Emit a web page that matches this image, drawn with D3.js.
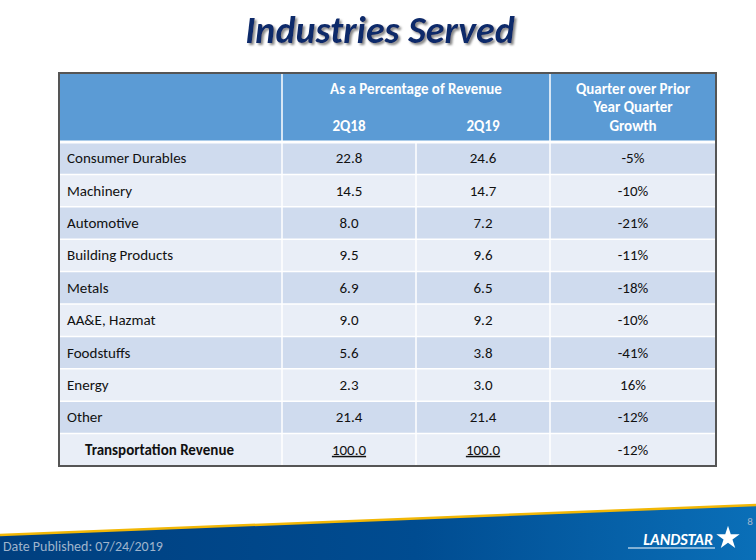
<!DOCTYPE html>
<html><head><meta charset="utf-8">
<script src="https://cdn.jsdelivr.net/npm/d3@7"></script>
<style>body{margin:0;background:#fff}</style>
</head><body>
<div id="chart-area"></div>
<script>
const industries = ["Consumer Durables", "Machinery", "Automotive", "Building Products", "Metals",
  "AA&E, Hazmat", "Foodstuffs", "Energy", "Other", "Transportation Revenue"]
const q2_18 = ["22.8", "14.5", "8.0", "9.5", "6.9", "9.0", "5.6", "2.3", "21.4", "100.0"]
const q2_19 = ["24.6", "14.7", "7.2", "9.6", "6.5", "9.2", "3.8", "3.0", "21.4", "100.0"]
const growth = ["-5%", "-10%", "-21%", "-11%", "-18%", "-10%", "-41%", "16%", "-12%", "-12%"]

const W = 756, H = 560
const FONT = "Carlito, Calibri, 'Open Sans', sans-serif"
const svg = d3.select("#chart-area").append("svg").attr("width", W).attr("height", H)
const defs = svg.append("defs")

// title with drop shadow
const f = defs.append("filter").attr("id", "shadow").attr("x", "-10%").attr("y", "-30%").attr("width", "130%").attr("height", "160%")
f.append("feDropShadow").attr("dx", 2).attr("dy", 2).attr("stdDeviation", 1).attr("flood-color", "#888")
svg.append("text").attr("x", 380).attr("y", 43).attr("text-anchor", "middle")
  .attr("font-family", FONT).attr("font-size", 38).attr("font-weight", "bold")
  .attr("font-style", "italic").attr("fill", "#0d2a6b").attr("filter", "url(#shadow)")
  .text("Industries Served")

// table
const T = { L: 59, R: 716, TOP: 73, HEAD: 142, BOT: 466 }
const colEdges = [T.L, 282, 416, 550, T.R]
const y = d3.scaleBand().domain(d3.range(industries.length)).range([T.HEAD, T.BOT])

const g = svg.append("g")
g.append("rect").attr("x", T.L).attr("y", T.TOP).attr("width", T.R - T.L).attr("height", T.HEAD - T.TOP)
  .attr("fill", "#5b9bd5")

industries.forEach((name, i) => {
  g.append("rect").attr("x", T.L).attr("y", y(i)).attr("width", T.R - T.L).attr("height", y.bandwidth())
    .attr("fill", i % 2 === 0 ? "#cfdbee" : "#e9eef7")
})

// white grid lines
y.domain().forEach(i => {
  g.append("line").attr("x1", T.L).attr("x2", T.R).attr("y1", y(i)).attr("y2", y(i))
    .attr("stroke", "#fff").attr("stroke-width", i === 0 ? 3 : 1.5)
})
colEdges.slice(1, -1).forEach((cx, k) => {
  g.append("line").attr("x1", cx).attr("x2", cx).attr("y1", k === 1 ? T.HEAD : T.TOP).attr("y2", T.BOT)
    .attr("stroke", "#fff").attr("stroke-width", 1.5)
})
g.append("rect").attr("x", T.L).attr("y", T.TOP).attr("width", T.R - T.L).attr("height", T.BOT - T.TOP)
  .attr("fill", "none").attr("stroke", "#555").attr("stroke-width", 2)

// header text
const head = (x, yy, t) => g.append("text").attr("x", x).attr("y", yy).attr("text-anchor", "middle")
  .attr("font-family", FONT).attr("font-size", 15).attr("font-weight", "bold").attr("fill", "#fff").text(t)
head((colEdges[1] + colEdges[3]) / 2, 94, "As a Percentage of Revenue")
head((colEdges[1] + colEdges[2]) / 2, 131, "2Q18")
head((colEdges[2] + colEdges[3]) / 2, 131, "2Q19")
head((colEdges[3] + colEdges[4]) / 2, 94, "Quarter over Prior")
head((colEdges[3] + colEdges[4]) / 2, 112, "Year Quarter")
head((colEdges[3] + colEdges[4]) / 2, 131, "Growth")

// body text
industries.forEach((name, i) => {
  const last = i === industries.length - 1
  const cy = y(i) + y.bandwidth() / 2 + 5
  const txt = (x, t, anchor, bold, ul) => g.append("text").attr("x", x).attr("y", cy)
    .attr("text-anchor", anchor).attr("font-family", FONT).attr("font-size", 15)
    .attr("font-weight", bold ? "bold" : "normal").attr("fill", "#111")
    .attr("text-decoration", ul ? "underline" : null).text(t)
  txt(last ? 85 : 67, name, "start", last, false)
  txt((colEdges[1] + colEdges[2]) / 2, q2_18[i], "middle", false, last)
  txt((colEdges[2] + colEdges[3]) / 2, q2_19[i], "middle", false, last)
  txt((colEdges[3] + colEdges[4]) / 2, growth[i], "middle", false, false)
})

// footer band
const grad = defs.append("linearGradient").attr("id", "band")
grad.append("stop").attr("offset", "0%").attr("stop-color", "#003f7f")
grad.append("stop").attr("offset", "55%").attr("stop-color", "#004c91")
grad.append("stop").attr("offset", "100%").attr("stop-color", "#0a6fb8")
svg.append("path").attr("d", `M0,535 L${W},505 L${W},${H} L0,${H} Z`).attr("fill", "url(#band)")
svg.append("path").attr("d", `M0,535 L${W},505`).attr("stroke", "#f2b705").attr("stroke-width", 2.5)
svg.append("text").attr("x", 3).attr("y", 551).attr("font-family", FONT).attr("font-size", 14)
  .attr("fill", "#9fb4cc").text("Date Published:  07/24/2019")
svg.append("text").attr("x", 750).attr("y", 525).attr("text-anchor", "middle").attr("font-family", FONT)
  .attr("font-size", 11).attr("fill", "#9fb4cc").text("8")
svg.append("text").attr("x", 713).attr("y", 545).attr("text-anchor", "end").attr("font-family", FONT)
  .attr("font-size", 16).attr("font-weight", "bold").attr("font-style", "italic").attr("fill", "#fff")
  .text("LANDSTAR")
svg.append("line").attr("x1", 628).attr("x2", 715).attr("y1", 548).attr("y2", 548).attr("stroke", "#fff").attr("stroke-width", 1)
svg.append("path").attr("d", d3.symbol(d3.symbolStar, 170)()).attr("transform", "translate(728,538)")
  .attr("fill", "#fff")
</script>
</body></html>
